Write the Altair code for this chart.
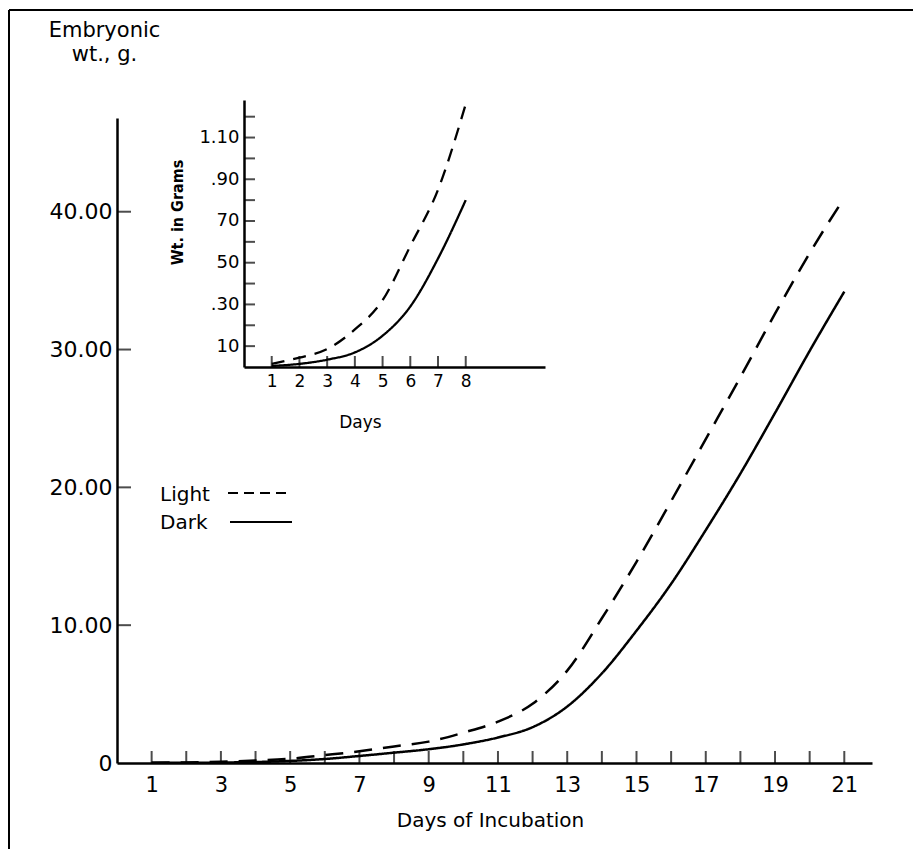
import altair as alt
import pandas as pd

# ---- data ----
days = list(range(1, 22))
light_wt = [0.02, 0.045, 0.09, 0.18, 0.31, 0.57, 0.85, 1.2, 1.55, 2.2, 3.0, 4.3,
            6.7, 10.5, 14.6, 19.0, 23.5, 28.0, 32.6, 37.0, 41.0]
dark_wt = [0.01, 0.015, 0.035, 0.07, 0.15, 0.29, 0.51, 0.75, 1.0, 1.35, 1.85, 2.6,
           4.1, 6.5, 9.6, 13.0, 16.9, 21.0, 25.4, 29.9, 34.2]

inset_days = [1, 2, 3, 4, 5, 6, 7, 8]
inset_light = [0.015, 0.045, 0.086, 0.18, 0.32, 0.58, 0.85, 1.26]
inset_dark = [0.005, 0.015, 0.035, 0.07, 0.15, 0.29, 0.52, 0.80]

series_names = ["Light", "Dark"]
main_x_labels = [1, 3, 5, 7, 9, 11, 13, 15, 17, 19, 21]
main_x_ticks = list(range(1, 22))
main_y_ticks = [10, 20, 30, 40]
main_y_labels = [0, 10, 20, 30, 40]
inset_x_ticks = [1, 2, 3, 4, 5, 6, 7, 8]
inset_y_ticks = [0.1, 0.2, 0.3, 0.4, 0.5, 0.6, 0.7, 0.8, 0.9, 1.0, 1.1, 1.2]
inset_y_labels = [0.1, 0.3, 0.5, 0.7, 0.9, 1.1]
inset_y_texts = ["10", ".30", "50", "70", ".90", "1.10"]

FONT = "DejaVu Sans"
NARROW = "DejaVu Sans Condensed, Liberation Sans Narrow, DejaVu Sans"
W, H = 755, 645

main_df = pd.DataFrame({
    "day": days * 2,
    "wt": light_wt + dark_wt,
    "series": ["Light"] * len(days) + ["Dark"] * len(days),
})
inset_df = pd.DataFrame({
    "day": inset_days * 2,
    "wt": inset_light + inset_dark,
    "series": ["Light"] * len(inset_days) + ["Dark"] * len(inset_days),
})

# ---- main scales / axes ----
xs = alt.Scale(domain=[0, 21.8], nice=False, zero=False)
ys = alt.Scale(domain=[0, 46.8], nice=False, zero=False)
x_axis = alt.Axis(values=main_x_labels, format="d", orient="bottom", ticks=False, tickSize=0,
                  labelPadding=11, labelFontSize=21, labelFont=FONT, grid=False,
                  domainWidth=2.5, domainColor="black", labelColor="black",
                  title="Days of Incubation", titleFont=FONT, titleFontSize=20,
                  titleFontWeight="normal", titleX=373, titleY=63, titleAlign="center",
                  titleBaseline="alphabetic", titleAnchor="middle")
y_axis = alt.Axis(values=main_y_labels, orient="left", ticks=False, tickSize=0,
                  labelExpr="datum.value == 0 ? '0' : format(datum.value, '.2f')",
                  labelPadding=5, labelFontSize=22, labelFont=FONT, grid=False,
                  domainWidth=2.5, domainColor="black", labelColor="black",
                  title=["Embryonic", "wt., g."], titleFont=FONT, titleFontSize=21,
                  titleFontWeight="normal", titleAngle=0, titleX=-13, titleY=-82,
                  titleAlign="center", titleBaseline="alphabetic", titleLineHeight=24)

X = alt.X("day:Q", scale=xs, axis=x_axis)
Y = alt.Y("wt:Q", scale=ys, axis=y_axis)

main_lines = alt.Chart(main_df).mark_line(color="black", strokeWidth=2.5,
                                          interpolate="monotone").encode(
    x=X, y=Y,
    strokeDash=alt.StrokeDash("series:N", legend=None,
                              scale=alt.Scale(domain=series_names, range=[[18, 11], [1, 0]])),
)
main_xt = alt.Chart(pd.DataFrame({"day": main_x_ticks, "wt": [0] * len(main_x_ticks)})).mark_tick(
    orient="vertical", size=12, thickness=2, color="black", yOffset=-6).encode(x=X, y=Y)
main_yt = alt.Chart(pd.DataFrame({"day": [0] * len(main_y_ticks), "wt": main_y_ticks})).mark_tick(
    orient="horizontal", size=14, thickness=2, color="black", xOffset=7).encode(x=X, y=Y)

# legend (hand-lettered in the original, label left of the line sample)
leg_light = alt.Chart(pd.DataFrame({"t": ["Light"]})).mark_text(
    font=FONT, fontSize=20, align="left", baseline="alphabetic", color="black").encode(
    text="t:N", x=alt.value(43), y=alt.value(383))
leg_dark = alt.Chart(pd.DataFrame({"t": ["Dark"]})).mark_text(
    font=FONT, fontSize=20, align="left", baseline="alphabetic", color="black").encode(
    text="t:N", x=alt.value(43), y=alt.value(411))
leg_light_line = alt.Chart(pd.DataFrame({"t": ["Light"]})).mark_rule(
    color="black", strokeWidth=2, strokeDash=[10, 6]).encode(
    x=alt.value(111), x2=alt.value(173), y=alt.value(375))
leg_dark_line = alt.Chart(pd.DataFrame({"t": ["Dark"]})).mark_rule(
    color="black", strokeWidth=2).encode(
    x=alt.value(113), x2=alt.value(175), y=alt.value(404))

# frame of the scanned figure (top and left edges)
frame_top = alt.Chart(pd.DataFrame({"t": [0]})).mark_rule(color="black", strokeWidth=2).encode(
    x=alt.value(-108), x2=alt.value(796), y=alt.value(-108))
frame_left = alt.Chart(pd.DataFrame({"t": [0]})).mark_rule(color="black", strokeWidth=2).encode(
    x=alt.value(-108), y=alt.value(-108), y2=alt.value(731))

main_layer = alt.layer(main_lines, main_xt, main_yt, leg_light, leg_dark,
                       leg_light_line, leg_dark_line, frame_top, frame_left)

# ---- inset ----
xi = alt.Scale(domain=[0, 10.86], range=[127, 428], nice=False, zero=False)
yi = alt.Scale(domain=[0, 1.28], range=[249, -18], nice=False, zero=False)
xi_axis = alt.Axis(values=inset_x_ticks, format="d", orient="bottom", offset=-(H - 249),
                   ticks=False, tickSize=0, labelPadding=6, labelFontSize=17, labelFont=FONT,
                   grid=False, domainWidth=2.5, domainColor="black", labelColor="black",
                   title="Days", titleFont=FONT, titleFontSize=17, titleFontWeight="normal",
                   titleX=243, titleY=60, titleAlign="center", titleBaseline="alphabetic",
                   titleAnchor="middle")
label_map = "{" + ", ".join(f"'{v}': '{t}'" for v, t in zip(inset_y_labels, inset_y_texts)) + "}"
yi_axis = alt.Axis(values=inset_y_labels, orient="left", offset=-127, ticks=False, tickSize=0,
                   labelExpr=f"{label_map}[format(datum.value, '.1f')]",
                   labelPadding=5, labelFontSize=18, labelFont=FONT, grid=False,
                   domainWidth=2.5, domainColor="black", labelColor="black",
                   title="Wt. in Grams", titleFont=NARROW, titleFontSize=16,
                   titleFontWeight="bold", titleAngle=270, titleX=-67, titleY=94,
                   titleAlign="center", titleBaseline="middle")

XI = alt.X("day:Q", scale=xi, axis=xi_axis)
YI = alt.Y("wt:Q", scale=yi, axis=yi_axis)

inset_lines = alt.Chart(inset_df).mark_line(color="black", strokeWidth=2.3,
                                            interpolate="monotone").encode(
    x=XI, y=YI,
    strokeDash=alt.StrokeDash("series:N", legend=None,
                              scale=alt.Scale(domain=series_names, range=[[13, 9], [1, 0]])),
)
inset_xt = alt.Chart(pd.DataFrame({"day": inset_x_ticks, "wt": [0] * len(inset_x_ticks)})).mark_tick(
    orient="vertical", size=11, thickness=2, color="black", yOffset=-5.5).encode(x=XI, y=YI)
inset_yt = alt.Chart(pd.DataFrame({"day": [0] * len(inset_y_ticks), "wt": inset_y_ticks})).mark_tick(
    orient="horizontal", size=11, thickness=2, color="black", xOffset=5.5).encode(x=XI, y=YI)

inset_layer = alt.layer(inset_lines, inset_xt, inset_yt)

chart = alt.layer(main_layer, inset_layer).resolve_scale(
    x="independent", y="independent", strokeDash="independent"
).resolve_axis(x="independent", y="independent").properties(
    width=W, height=H,
    padding={"left": 109, "top": 110, "right": 41, "bottom": 86},
    autosize=alt.AutoSizeParams(type="none"),
    background="white",
).configure_view(stroke=None)

chart.save("out.html", embed_options={"renderer": "svg", "actions": False})
